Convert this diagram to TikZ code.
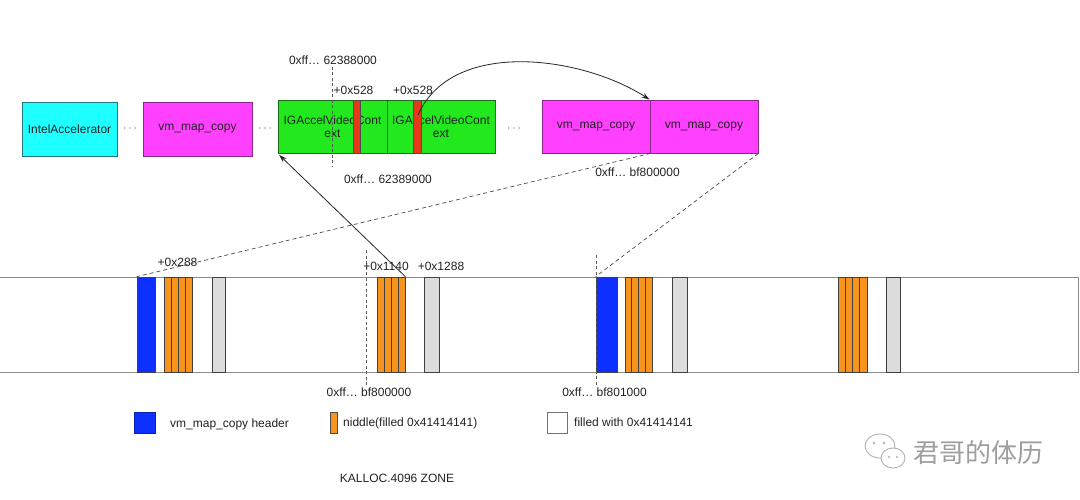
\documentclass[tikz,border=0pt]{standalone}
\usepackage{fontspec}
\setmainfont{Liberation Sans}
\newfontfamily\cjkfont{Noto Sans CJK SC}
\usetikzlibrary{arrows.meta,calc}
\definecolor{cyanbox}{HTML}{1EFFFF}
\definecolor{cyanline}{HTML}{23777A}
\definecolor{magbox}{HTML}{FF40FF}
\definecolor{magline}{HTML}{8A2A8A}
\definecolor{greenbox}{HTML}{22E81E}
\definecolor{greenline}{HTML}{1D6B1A}
\definecolor{redbar}{HTML}{E5391A}
\definecolor{bluebox}{HTML}{0B30FF}
\definecolor{orangebox}{HTML}{F7941D}
\definecolor{graybox}{HTML}{DCDCDC}
\definecolor{txt}{HTML}{222222}
\definecolor{zoneline}{HTML}{8C8C8C}
\begin{document}
\begin{tikzpicture}[x=1pt,y=-1pt, font=\fontsize{12}{14}\selectfont, text=txt,
  obj/.style={draw, inner sep=0pt, align=center, line width=0.8pt},
  topbox/.style={obj, minimum height=53},
  blk/.style={draw=black!75, inner sep=0pt, minimum height=95, line width=0.7pt},
  stripes/.style={blk, fill=orangebox,
    path picture={\foreach \f in {0.25,0.5,0.75}
      \draw[black!75, line width=0.7pt]
        ($(path picture bounding box.north west)!\f!(path picture bounding box.north east)$) --
        ($(path picture bounding box.south west)!\f!(path picture bounding box.south east)$);}},
  lbl/.style={inner sep=0pt},
  dashline/.style={draw=black!70, dash pattern=on 4pt off 3pt, line width=0.7pt},
  vdash/.style={draw=black!65, dash pattern=on 3pt off 2.5pt, line width=0.7pt},
  arr/.style={draw=black!85, line width=0.8pt, -{Stealth[length=8pt,width=5pt]}},
  dots/.style={inner sep=0pt, text=black!60}
]
\useasboundingbox (0,0) rectangle (1080,500);
\fill[white] (0,0) rectangle (1080,500);

% ---- top row ----
\node[topbox, draw=cyanline, fill=cyanbox, minimum width=95, minimum height=54] (intel) at (69.5,129) {IntelAccelerator};
\node[dots] (d1) at (130,129) {$\cdots$};
\node[topbox, draw=magline, fill=magbox, minimum width=109, minimum height=54] (vm1) at (197.5,129) {vm\_map\_copy};
\node[dots] (d2) at (265,129) {$\cdots$};
\node[topbox, draw=greenline, fill=greenbox, minimum width=109, font=\fontsize{12}{13}\selectfont] (green1) at (332.5,126.5) {IGAccelVideoCont\\ext};
\node[topbox, draw=greenline, fill=greenbox, minimum width=108, font=\fontsize{12}{13}\selectfont] (green2) at (441,126.5) {IGAccelVideoCont\\ext};
\node[topbox, draw=black!70, fill=redbar, minimum width=7] (red1) at (356.5,126.5) {};
\node[topbox, draw=black!70, fill=redbar, minimum width=8] (red2) at (417,126.5) {};
\node[dots] (d3) at (514,129) {$\cdots$};
\node[topbox, draw=magline, fill=magbox, minimum width=108] (magA) at (596,126.5) {vm\_map\_copy};
\node[topbox, draw=magline, fill=magbox, minimum width=108] (magB) at (704,126.5) {vm\_map\_copy};

% labels top
\node[lbl] (l62388) at (333,60) {0xff… 62388000};
\node[lbl] (l528a) at (353.5,90) {+0x528};
\node[lbl] (l528b) at (413,90) {+0x528};
\node[lbl] (l62389) at (388,179) {0xff… 62389000};
\node[lbl] (lbf8a) at (637.5,172) {0xff… bf800000};

\coordinate (v1t) at (332,67);
\coordinate (v1b) at (332,167);
\draw[vdash] (v1t) -- (v1b);

% ---- zone ----
\node[draw=zoneline, line width=0.8pt, inner sep=0pt, minimum width=1080, minimum height=95] (zone) at (538,324.5) {};

\node[blk, fill=bluebox] (blue1) at (146,324.5) [minimum width=18] {};
\node[stripes, minimum width=28] (or1) at (178,324.5) {};
\node[blk, fill=graybox, minimum width=13] (gr1) at (218.5,324.5) {};
\node[stripes, minimum width=28] (or2) at (391,324.5) {};
\node[blk, fill=graybox, minimum width=15] (gr2) at (431.5,324.5) {};
\node[blk, fill=bluebox, minimum width=21] (blue2) at (606.5,324.5) {};
\node[stripes, minimum width=27] (or3) at (638.5,324.5) {};
\node[blk, fill=graybox, minimum width=15] (gr3) at (679.5,324.5) {};
\node[stripes, minimum width=29] (or4) at (852.5,324.5) {};
\node[blk, fill=graybox, minimum width=14] (gr4) at (893,324.5) {};

\coordinate (v2t) at (366,250);
\coordinate (v2b) at (366,385);
\draw[vdash] (v2t) -- (v2b);
\coordinate (v3t) at (596,255);
\coordinate (v3b) at (596,385);
\draw[vdash] (v3t) -- (v3b);

\node[lbl] (l288) at (177.5,262) {+0x288};
\node[lbl] (l1140) at (386,266) {+0x1140};
\node[lbl] (l1288) at (441,266) {+0x1288};
\node[lbl] (lbf8b) at (369,392) {0xff… bf800000};
\node[lbl] (lbf801) at (604.5,392) {0xff… bf801000};

% ---- connectors ----
\draw[dashline] (magA.south east) -- (blue1.north west);
\draw[dashline] (magB.south east) -- (blue2.north west);
\draw[arr, shorten >=2pt] (or2.north east) -- (green1.south west);
\coordinate (cs) at (418,115);
\draw[arr] (cs) .. controls (452,38) and (582,56) .. (magB.north west);

% ---- legend ----
\node[obj, draw=bluebox!70!black, fill=bluebox, line width=0.6pt, minimum width=21, minimum height=21] (lg1) at (144.5,422.5) {};
\node[lbl, anchor=west] (lg1t) at (170,424) {vm\_map\_copy header};
\node[obj, draw=black!70, fill=orangebox, line width=0.6pt, minimum width=7, minimum height=21] (lg2) at (333.5,422.5) {};
\node[lbl, anchor=west] (lg2t) at (343,423) {niddle(filled 0x41414141)};
\node[obj, draw=black!55, fill=white, line width=0.6pt, minimum width=20, minimum height=21] (lg3) at (557,422.5) {};
\node[lbl, anchor=west] (lg3t) at (574,422) {filled with 0x41414141};

\node[lbl] (zonet) at (397,478) {KALLOC.4096 ZONE};

% ---- watermark ----
\draw[black!30, line width=0.9pt, fill=white] (880,446) ellipse [x radius=15pt, y radius=12pt];
\draw[black!30, line width=0.9pt, fill=white] (893,458) ellipse [x radius=12pt, y radius=10pt];
\fill[black!30] (874,443) circle [radius=1.3pt] (884,443) circle [radius=1.3pt]
  (889,457) circle [radius=1.1pt] (897,457) circle [radius=1.1pt];
\node[lbl, text=black!38, font=\cjkfont\fontsize{26}{28}\selectfont] (wm) at (978,453) {君哥的体历};
\end{tikzpicture}
\end{document}
